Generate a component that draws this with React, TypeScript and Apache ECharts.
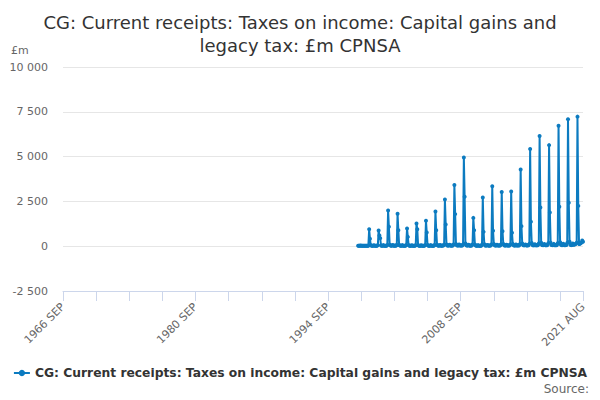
import React, { useEffect, useRef } from "react";
import * as echarts from "echarts";

const TITLE = "CG: Current receipts: Taxes on income: Capital gains and\nlegacy tax: £m CPNSA";
const SERIES_NAME = "CG: Current receipts: Taxes on income: Capital gains and legacy tax: £m CPNSA";
const MONTHS = ["JAN", "FEB", "MAR", "APR", "MAY", "JUN", "JUL", "AUG", "SEP", "OCT", "NOV", "DEC"];
const START_YEAR = 1966;
const START_MONTH = 8; // SEP
const END_YEAR = 2021;
const END_MONTH = 7; // AUG

// Data begins 1997 NOV
const v1997 = [20, 25]; // NOV, DEC
const v1998 = [30, 40, 25, 20, 20, 25, 30, 20, 20, 25, 20, 30];
const v1999 = [950, 420, 60, 30, 25, 30, 50, 25, 20, 30, 25, 60];
const v2000 = [880, 600, 450, 40, 30, 30, 60, 30, 25, 30, 30, 60];
const v2001 = [1990, 1080, 80, 40, 30, 40, 70, 30, 30, 40, 30, 70];
const v2002 = [1810, 890, 70, 40, 30, 30, 60, 30, 30, 30, 30, 60];
const v2003 = [990, 520, 60, 30, 30, 30, 50, 30, 25, 30, 30, 50];
const v2004 = [1270, 950, 60, 30, 30, 30, 50, 30, 30, 30, 30, 60];
const v2005 = [1420, 760, 70, 30, 30, 30, 60, 30, 30, 30, 30, 70];
const v2006 = [1940, 890, 80, 40, 30, 40, 70, 30, 30, 40, 40, 80];
const v2007 = [2610, 1210, 100, 40, 40, 40, 80, 40, 30, 40, 40, 90];
const v2008 = [3410, 1790, 120, 50, 40, 40, 90, 40, 40, 40, 40, 100];
const v2009 = [4950, 2760, 150, 50, 40, 40, 80, 40, 30, 40, 40, 90];
const v2010 = [1580, 890, 90, 40, 30, 30, 60, 30, 30, 30, 30, 80];
const v2011 = [2720, 800, 110, 40, 40, 40, 70, 40, 30, 40, 40, 90];
const v2012 = [3350, 860, 120, 50, 40, 40, 80, 40, 40, 40, 40, 100];
const v2013 = [3020, 840, 120, 50, 40, 40, 80, 40, 40, 40, 40, 100];
const v2014 = [3050, 750, 130, 50, 40, 40, 90, 40, 40, 50, 40, 110];
const v2015 = [4280, 1120, 150, 60, 50, 50, 100, 50, 40, 50, 50, 130];
const v2016 = [5420, 1360, 180, 60, 50, 50, 110, 50, 50, 50, 60, 150];
const v2017 = [6150, 2160, 200, 70, 60, 60, 120, 60, 50, 60, 60, 160];
const v2018 = [5640, 1880, 200, 70, 60, 60, 130, 60, 50, 60, 60, 170];
const v2019 = [6720, 2200, 220, 80, 60, 60, 140, 60, 60, 60, 70, 180];
const v2020 = [7080, 2420, 250, 80, 60, 70, 150, 80, 90, 110, 130, 200];
const v2021 = [7230, 2250, 120, 130, 160, 200, 320, 250]; // JAN..AUG

const DATA_START_LABEL = "1997 NOV";

const VALUES = [
  ...v1997, ...v1998, ...v1999, ...v2000, ...v2001, ...v2002, ...v2003, ...v2004,
  ...v2005, ...v2006, ...v2007, ...v2008, ...v2009, ...v2010, ...v2011, ...v2012,
  ...v2013, ...v2014, ...v2015, ...v2016, ...v2017, ...v2018, ...v2019, ...v2020, ...v2021,
];

function buildCategories(): string[] {
  const out: string[] = [];
  let y = START_YEAR;
  let m = START_MONTH;
  while (y < END_YEAR || (y === END_YEAR && m <= END_MONTH)) {
    out.push(`${y} ${MONTHS[m]}`);
    m++;
    if (m > 11) { m = 0; y++; }
  }
  return out;
}

const fmt = (v: number) => {
  const s = Math.abs(v).toString().replace(/\B(?=(\d{3})+(?!\d))/g, " ");
  return (v < 0 ? "-" : "") + s;
};

export default function App() {
  const ref = useRef<HTMLDivElement>(null);
  useEffect(() => {
    if (!ref.current) return;
    const chart = echarts.init(ref.current, undefined, { renderer: "svg" });
    const categories = buildCategories();
    const startIdx = categories.indexOf(DATA_START_LABEL);
    const data: (number | null)[] = categories.map(() => null);
    VALUES.forEach((v, i) => { data[startIdx + i] = v; });
    const last = categories.length - 1;
    const font = "DejaVu Sans, sans-serif";
    chart.setOption({
      animation: false,
      textStyle: { fontFamily: font },
      title: {
        text: TITLE,
        left: "center",
        top: 6,
        textStyle: { fontFamily: font, fontSize: 18, fontWeight: "normal", color: "#333333", lineHeight: 23 },
      },
      grid: { left: 63, right: 17, top: 67, bottom: 109, containLabel: false },
      legend: {
        bottom: 16,
        left: "center",
        itemWidth: 16,
        itemHeight: 8,
        itemGap: 4,
        textStyle: { fontFamily: font, fontSize: 12.3, fontWeight: "bold", color: "#333333" },
        data: [SERIES_NAME],
      },
      graphic: [
        { type: "text", left: 11, top: 45, style: { text: "£m", fontFamily: font, fontSize: 11, fill: "#666666" } },
        { type: "text", right: 11, top: 383, style: { text: "Source:", fontFamily: font, fontSize: 12, fill: "#666666" } },
      ],
      xAxis: {
        type: "category",
        data: categories,
        boundaryGap: false,
        axisLine: { onZero: false, lineStyle: { color: "#ccd6eb" } },
        axisTick: {
          length: 10,
          lineStyle: { color: "#ccd6eb" },
          interval: (idx: number) => idx % 42 === 0 || idx === last,
        },
        axisLabel: {
          rotate: 45,
          color: "#666666",
          fontSize: 11,
          margin: 14,
          fontFamily: font,
          interval: (idx: number) => idx % 168 === 0 || idx === last,
        },
        splitLine: { show: false },
      },
      yAxis: {
        type: "value",
        min: -2500,
        max: 10000,
        interval: 2500,
        axisLine: { show: false },
        axisTick: { show: false },
        axisLabel: { color: "#666666", fontSize: 11, fontFamily: font, margin: 15, formatter: (v: number) => fmt(v) },
        splitLine: { lineStyle: { color: "#e6e6e6" } },
      },
      series: [
        {
          name: SERIES_NAME,
          type: "line",
          data,
          connectNulls: false,
          showSymbol: true,
          showAllSymbol: true,
          symbol: "circle",
          symbolSize: 4,
          color: "#0c7bc0",
          lineStyle: { width: 2, color: "#0c7bc0" },
          itemStyle: { color: "#0c7bc0" },
        },
      ],
    });
    return () => chart.dispose();
  }, []);
  return <div ref={ref} style={{ width: 600, height: 400, marginLeft: -8, marginTop: -8 }} />;
}
